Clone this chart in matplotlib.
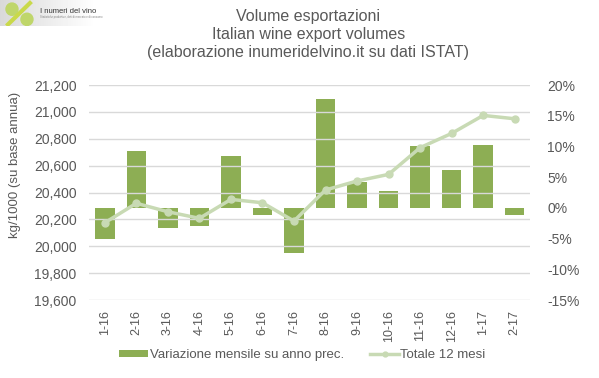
import matplotlib.pyplot as plt
from matplotlib.ticker import FuncFormatter
from matplotlib.patches import Circle
import numpy as np

plt.rcParams["font.family"] = ["Liberation Sans", "DejaVu Sans"]

months = ["1-16", "2-16", "3-16", "4-16", "5-16", "6-16", "7-16",
          "8-16", "9-16", "10-16", "11-16", "12-16", "1-17", "2-17"]
# monthly change vs previous year (%)
variazione = [-5.0, 9.2, -3.3, -3.0, 8.5, -1.2, -7.4,
              17.7, 4.2, 2.7, 10.0, 6.1, 10.2, -1.2]
# rolling 12-month total (kg/1000)
totale_12m = [20175, 20320, 20257, 20208, 20349, 20324, 20188,
              20419, 20486, 20535, 20734, 20840, 20974, 20949]

bar_color = "#8DAE54"
line_color = "#C8DAB4"
text_color = "#595959"

fig = plt.figure(figsize=(5.99, 3.78), dpi=100)
ax = fig.add_axes([0.1486, 0.2063, 0.737, 0.5687])
ax2 = ax.twinx()

x = np.arange(len(months))

# bars on the percent axis, line on the volume axis
ax2.bar(x, variazione, width=0.62, color=bar_color, zorder=2,
        label="Variazione mensile su anno prec.")
ax.plot(x, totale_12m, color=line_color, lw=2.5, marker="o", ms=5,
        zorder=3, label="Totale 12 mesi")
ax.set_zorder(ax2.get_zorder() + 1)
ax.patch.set_visible(False)

ax.set_ylim(19600, 21200)
ax.set_yticks(np.arange(19600, 21201, 200))
ax.yaxis.set_major_formatter(FuncFormatter(lambda v, p: f"{v:,.0f}"))
ax2.set_ylim(-15, 20)
ax2.set_yticks(np.arange(-15, 21, 5))
ax2.yaxis.set_major_formatter(FuncFormatter(lambda v, p: f"{v:.0f}%"))
ax.set_xlim(-0.5, len(months) - 0.5)
ax.set_xticks(x)
ax.set_xticklabels(months, rotation=90)

ax2.grid(False)
ax.grid(axis="y", color="#D9D9D9", lw=1)
ax.set_axisbelow(True)

for a in (ax, ax2):
    for s in a.spines.values():
        s.set_visible(False)
    a.tick_params(length=0, colors=text_color, labelsize=10)
ax.tick_params(axis="y", pad=9)
ax2.tick_params(axis="y", pad=12)
ax.tick_params(axis="x", pad=7, labelsize=9)

ax.set_ylabel("kg/1000 (su base annua)", color=text_color, fontsize=9.5)
ax.yaxis.set_label_coords(-0.155, 0.63)

fig.text(0.515, 0.975, "Volume esportazioni\nItalian wine export volumes\n(elaborazione inumeridelvino.it su dati ISTAT)",
         ha="center", va="top", fontsize=11.5, color=text_color, linespacing=1.25)

# logo substitute
logo = fig.add_axes([0.0, 0.93, 0.16, 0.07])
logo.set_xlim(0, 96)
logo.set_ylim(26, 0)
logo.axis("off")
logo.imshow(np.linspace(0.85, 1.0, 96)[None, :], cmap="gray", vmin=0, vmax=1,
            extent=(0, 96, 26, 0), aspect="auto")
logo.plot([8, 30], [24, 3], color="#C9D94A", lw=3)
logo.add_patch(Circle((12, 9), 6, color="#BFD66A"))
logo.add_patch(Circle((27, 19), 6, color="#BFD66A"))
logo.text(40, 11, "I numeri del vino", fontsize=5.5, color="#333333", va="center")
logo.text(40, 17, "Statistiche produttive, dati di mercato e di consumo", fontsize=2, color="#888888", va="center")

h1, l1 = ax2.get_legend_handles_labels()
h2, l2 = ax.get_legend_handles_labels()
fig.legend(h1 + h2, l1 + l2, loc="center", bbox_to_anchor=(0.505, 0.06), ncol=2,
           frameon=False, fontsize=9.5, labelcolor=text_color, handlelength=2.2,
           handleheight=0.4, handletextpad=0.1, columnspacing=2.0, markerscale=0.7)

fig.savefig("out.png", dpi=100)
